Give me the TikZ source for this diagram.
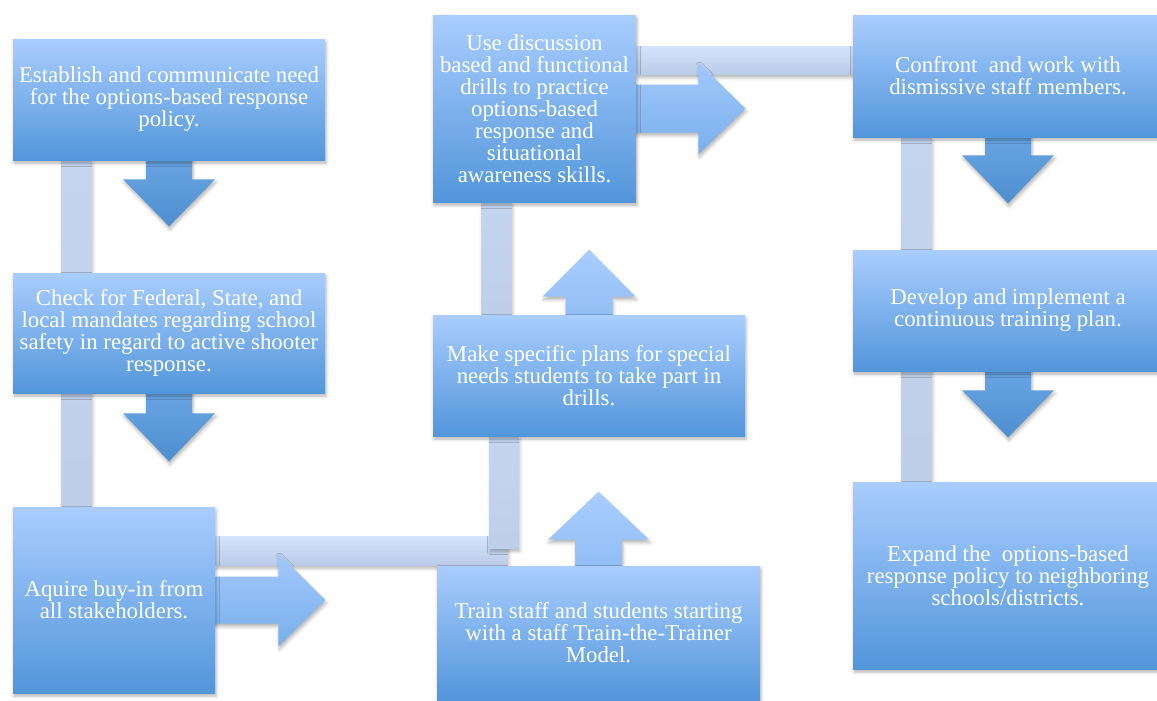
\documentclass[tikz,border=0pt]{standalone}
\usepackage{fontspec}
\setmainfont{Liberation Serif}
\usepackage{xcolor}
\usetikzlibrary{calc,shadows,shadows.blur}
\definecolor{boxtop}{HTML}{A9CDFF}
\definecolor{boxbot}{HTML}{5296DA}
\definecolor{bartop}{HTML}{D3E3FC}
\definecolor{barbot}{HTML}{BACBE8}
\definecolor{vbar}{HTML}{C4D5F0}

\begin{document}
\begin{tikzpicture}[
  x=0.6pt,y=-0.6pt,
  soft/.style={blur shadow={shadow xshift=.6pt,shadow yshift=-1.8pt,shadow blur radius=2pt,shadow opacity=30}},
  stepbox/.style={rectangle,inner sep=0pt,outer sep=0pt,align=center,text=white,
    top color=boxtop,bottom color=boxbot,soft,
    font=\fontsize{13.7}{13.2}\selectfont},
  hbar/.style={top color=bartop,bottom color=barbot,soft},
  vbarpath/.style={top color=vbar,bottom color=vbar!95!black!60!vbar,soft},
  downarrow/.style={top color=boxbot!70!boxtop,bottom color=boxbot!95!black,soft},
  rightarrow/.style={top color=boxtop!92!boxbot,bottom color=boxtop!45!boxbot,soft},
  uparrow/.style={top color=boxtop,bottom color=boxtop!70!boxbot,soft}
]
  \useasboundingbox (0,0) rectangle (1157,700);

  % places of the steps
  \path (169,99.5) node[minimum width=187.2pt,minimum height=72.6pt] (b1) {}
        (169,333) node[minimum width=187.2pt,minimum height=72pt] (b2) {}
        (114,600) node[minimum width=121.2pt,minimum height=111.6pt] (b3) {}
        (598.5,633) node[minimum width=193.8pt,minimum height=80.4pt] (b4) {}
        (589,375.5) node[minimum width=187.2pt,minimum height=72.6pt] (b5) {}
        (534.5,108.5) node[minimum width=121.8pt,minimum height=112.2pt] (b6) {}
        (1008,76) node[minimum width=186pt,minimum height=73.2pt] (b7) {}
        (1008,310.5) node[minimum width=186pt,minimum height=72.6pt] (b8) {}
        (1008,575.5) node[minimum width=186pt,minimum height=112.2pt] (b9) {};

  % connecting bars
  \path[vbarpath] ($(b1.south west)+(49,0)$) rectangle ($(b3.north west)+(79,0)$);
  \path[hbar] ($(b3.north east)+(0,30)$) rectangle ($(b5.south west)+(75,129)$);
  \path[vbarpath] ($(b5.south west)+(57,0)$) rectangle ($(b5.south west)+(86,112)$);
  \path[vbarpath] ($(b6.south west)+(49,0)$) rectangle ($(b5.north west)+(79,0)$);
  \path[hbar] ($(b6.north east)+(0,32)$) rectangle ($(b7.north west)+(0,60)$);
  \path[vbarpath] ($(b7.south west)+(49,0)$) rectangle ($(b9.north west)+(79,0)$);

  % block arrows
  \path[downarrow] (b1.south) ++(-23,-8) -- ++(0,27) -- ++(-23,0) -- ++(46,47)
    -- ++(46,-47) -- ++(-23,0) -- ++(0,-27) -- cycle;
  \path[downarrow] (b2.south) ++(-23,-8) -- ++(0,28) -- ++(-23,0) -- ++(46,48)
    -- ++(46,-48) -- ++(-23,0) -- ++(0,-28) -- cycle;
  \path[downarrow] (b7.south) ++(-23,-8) -- ++(0,26) -- ++(-23,0) -- ++(46,48)
    -- ++(46,-48) -- ++(-23,0) -- ++(0,-26) -- cycle;
  \path[downarrow] (b8.south) ++(-23,-8) -- ++(0,27) -- ++(-23,0) -- ++(46,47)
    -- ++(46,-47) -- ++(-23,0) -- ++(0,-27) -- cycle;
  \path[rightarrow] (b3.east) ++(-8,-23.5) -- ++(71,0) -- ++(0,-23) -- ++(47,46.5)
    -- ++(-47,46.5) -- ++(0,-23) -- ++(-71,0) -- cycle;
  \path[rightarrow] (b6.east) ++(-8,-24) -- ++(70,0) -- ++(0,-22) -- ++(47,46)
    -- ++(-47,46) -- ++(0,-22) -- ++(-70,0) -- cycle;
  \path[uparrow] (b4.north) ++(-23.5,8) -- ++(0,-34) -- ++(-27,0) -- ++(50.5,-48)
    -- ++(50.5,48) -- ++(-27,0) -- ++(0,34) -- cycle;
  \path[uparrow] (b5.north) ++(-23.5,8) -- ++(0,-26) -- ++(-23,0) -- ++(46.5,-47)
    -- ++(46.5,47) -- ++(-23,0) -- ++(0,26) -- cycle;

  % the steps
  \node[stepbox,minimum width=187.2pt,minimum height=72.6pt] at (b1)
    {Establish and communicate need\\for the options-based response\\policy.};
  \node[stepbox,minimum width=187.2pt,minimum height=72pt] at (b2)
    {Check for Federal, State, and\\local mandates regarding school\\safety in regard to active shooter\\response.};
  \node[stepbox,minimum width=121.2pt,minimum height=111.6pt] at (b3)
    {Aquire buy-in from\\all stakeholders.};
  \node[stepbox,minimum width=193.8pt,minimum height=80.4pt] at (b4)
    {Train staff and students starting\\with a staff Train-the-Trainer\\Model.};
  \node[stepbox,minimum width=187.2pt,minimum height=72.6pt] at (b5)
    {Make specific plans for special\\needs students to take part in\\drills.};
  \node[stepbox,minimum width=121.8pt,minimum height=112.2pt] at (b6)
    {Use discussion\\based and functional\\drills to practice\\options-based\\response and\\situational\\awareness skills.};
  \node[stepbox,minimum width=186pt,minimum height=73.2pt] at (b7)
    {Confront\ \ and work with\\dismissive staff members.};
  \node[stepbox,minimum width=186pt,minimum height=72.6pt] at (b8)
    {Develop and implement a\\continuous training plan.};
  \node[stepbox,minimum width=186pt,minimum height=112.2pt] at (b9)
    {Expand the\ \ options-based\\response policy to neighboring\\schools/districts.};
\end{tikzpicture}
\end{document}
